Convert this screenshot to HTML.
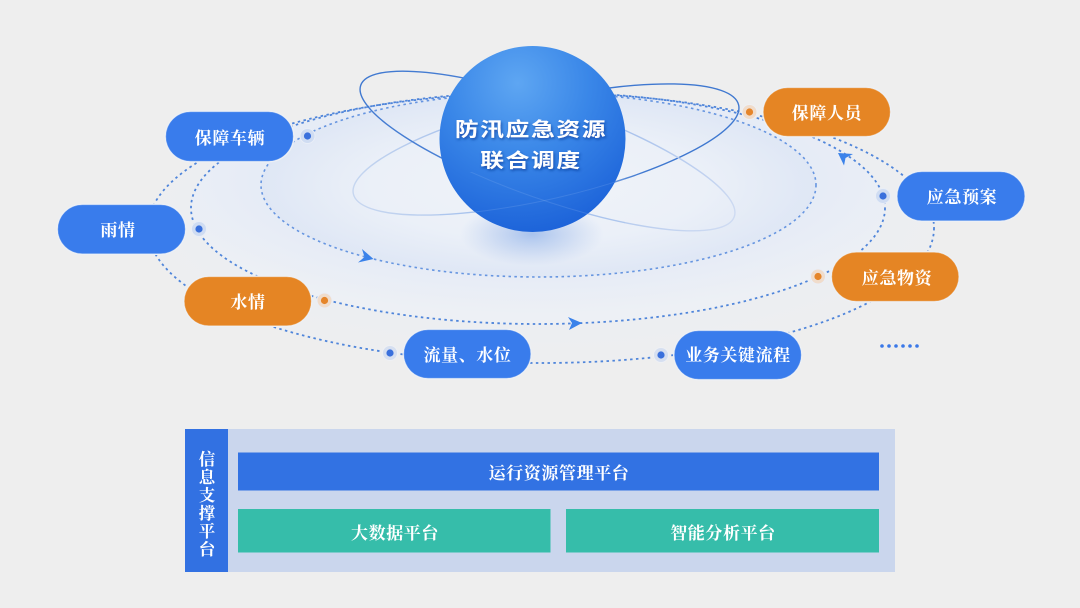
<!DOCTYPE html>
<html lang="zh">
<head>
<meta charset="utf-8">
<style>
html,body{margin:0;padding:0;background:#eeeeee;}
svg{display:block;}
.p{font-family:"Liberation Serif","Noto Serif CJK SC",serif;font-weight:700;font-size:17px;letter-spacing:.6px;fill:#fff;text-anchor:middle;}
.v{font-size:16.5px;letter-spacing:0;}
.t{font-family:"Liberation Sans","Noto Sans CJK SC",sans-serif;font-weight:700;font-size:22px;letter-spacing:1.5px;fill:#fff;text-anchor:middle;filter:url(#ts);}
.d{fill:none;stroke:#4f85da;stroke-width:1.8;stroke-dasharray:2.5 3.4;}
</style>
</head>
<body>
<svg width="1080" height="608" viewBox="0 0 1080 608" xmlns="http://www.w3.org/2000/svg">
<defs>
<radialGradient id="fo" cx="50%" cy="45%" r="50%">
<stop offset="0" stop-color="#e8edf7"/>
<stop offset=".8" stop-color="#e9edf5"/>
<stop offset="1" stop-color="#eceef3"/>
</radialGradient>
<radialGradient id="fm" cx="50%" cy="38%" r="58%">
<stop offset="0" stop-color="#ecf0f8"/>
<stop offset=".65" stop-color="#e5ebf6"/>
<stop offset="1" stop-color="#edf0f5"/>
</radialGradient>
<radialGradient id="fi" cx="50%" cy="50%" r="50%">
<stop offset="0" stop-color="#f0f3f9"/>
<stop offset=".6" stop-color="#ebf0f8"/>
<stop offset="1" stop-color="#dfe7f5"/>
</radialGradient>
<radialGradient id="sph" cx="42%" cy="20%" r="85%">
<stop offset="0" stop-color="#5ea6f2"/>
<stop offset=".45" stop-color="#3a87e8"/>
<stop offset="1" stop-color="#1a60d8"/>
</radialGradient>
<radialGradient id="sh" cx="50%" cy="50%" r="50%">
<stop offset="0" stop-color="#7ba4e6" stop-opacity=".6"/>
<stop offset=".55" stop-color="#8fb0e8" stop-opacity=".3"/>
<stop offset="1" stop-color="#9db9ea" stop-opacity="0"/>
</radialGradient>
<linearGradient id="ra" gradientUnits="userSpaceOnUse" x1="360" y1="190" x2="730" y2="110">
<stop offset="0" stop-color="#c6d6f0"/>
<stop offset=".45" stop-color="#9dbbea"/>
<stop offset=".72" stop-color="#3f78d0"/>
<stop offset="1" stop-color="#3f78d0"/>
</linearGradient>
<linearGradient id="rb" gradientUnits="userSpaceOnUse" x1="360" y1="90" x2="730" y2="220">
<stop offset="0" stop-color="#3f78d0"/>
<stop offset=".3" stop-color="#4a80d4"/>
<stop offset=".6" stop-color="#a6c0ec"/>
<stop offset="1" stop-color="#d0dcf2"/>
</linearGradient>
<clipPath id="sc"><path d="M440 172 H625 V232 H440 Z"/></clipPath>
<filter id="ts" x="-10%" y="-30%" width="120%" height="170%">
<feDropShadow dx="1" dy="2" stdDeviation="1.5" flood-color="#0b3a96" flood-opacity=".75"/>
</filter>
</defs>

<rect width="1080" height="608" fill="#eeeeee"/>

<!-- orbit ellipses -->
<ellipse cx="541" cy="228" rx="393" ry="135" fill="url(#fo)" opacity=".5"/>
<ellipse cx="538" cy="208" rx="347" ry="116" fill="url(#fm)"/>
<ellipse cx="538.500" cy="185" rx="277.500" ry="92" fill="url(#fi)"/>
<ellipse cx="541" cy="228" rx="393" ry="135" class="d"/>
<ellipse cx="538" cy="208" rx="347" ry="116" class="d"/>
<ellipse cx="538.500" cy="185" rx="277.500" ry="92" class="d" style="stroke:#6695e0;stroke-width:1.6"/>

<!-- tilted rings -->
<ellipse cx="546" cy="149.500" rx="197.700" ry="49.500" transform="rotate(-13 546 149.5)" fill="none" stroke="url(#ra)" stroke-width="1.4"/>
<ellipse cx="547.500" cy="151" rx="198" ry="48" transform="rotate(19.4 547.5 151)" fill="none" stroke="url(#rb)" stroke-width="1.4"/>

<!-- sphere -->
<ellipse cx="532" cy="234" rx="72" ry="32" fill="url(#sh)"/>
<circle cx="532.500" cy="139" r="93" fill="url(#sph)"/>
<g clip-path="url(#sc)" fill="none" stroke="#8db8f2" stroke-opacity=".22" stroke-width="1">
<ellipse cx="546" cy="149.500" rx="197.700" ry="49.500" transform="rotate(-13 546 149.5)"/>
<ellipse cx="547.500" cy="151" rx="198" ry="48" transform="rotate(19.4 547.5 151)"/>
</g>
<text class="t" transform="translate(531,136) scale(1.08,.88)">防汛应急资源</text>
<text class="t" transform="translate(531,167) scale(1.08,.88)">联合调度</text>

<!-- arrows -->
<path d="M362 249 L373.500 259 L358 262.500 L364.500 257 Z" fill="#3a82ea"/>
<path d="M568 317 L582 323 L569 330 L572 323 Z" fill="#3a82ea"/>
<path d="M838 153 L853 154 L845.500 158 L844 165.500 Z" fill="#3a82ea"/>

<!-- dots -->
<g fill="#3a70dc">
<circle cx="307.500" cy="136" r="7.500" fill="#cfdcf2" stroke="#e9eef7"/><circle cx="307.500" cy="136" r="3.600"/>
<circle cx="199" cy="229" r="7.500" fill="#cfdcf2" stroke="#e9eef7"/><circle cx="199" cy="229" r="3.600"/>
<circle cx="390" cy="353" r="7.500" fill="#d6dff0" stroke="#eef0f4"/><circle cx="390" cy="353" r="3.600"/>
<circle cx="661" cy="355" r="7.500" fill="#d6dff0" stroke="#eef0f4"/><circle cx="661" cy="355" r="3.600"/>
<circle cx="883" cy="196" r="7.500" fill="#cfdcf2" stroke="#e9eef7"/><circle cx="883" cy="196" r="3.600"/>
</g>
<g fill="#e5852a">
<circle cx="324.500" cy="300.500" r="7.500" fill="#f0dccb" stroke="#eaeef6"/><circle cx="324.500" cy="300.500" r="3.600"/>
<circle cx="818" cy="276.500" r="7.500" fill="#f0dccb" stroke="#eaeef6"/><circle cx="818" cy="276.500" r="3.600"/>
<circle cx="749.500" cy="112" r="7.500" fill="#f0dccb" stroke="#eef0f4"/><circle cx="749.500" cy="112" r="3.600"/>
</g>

<!-- pill halos -->
<g fill="none" stroke="#edf0f5" stroke-width="3">
<rect x="166" y="112" width="127" height="49" rx="24.500"/>
<rect x="58" y="205" width="127" height="48.500" rx="24.200"/>
<rect x="404" y="330" width="126.500" height="48" rx="24"/>
<rect x="674.500" y="331" width="126.500" height="48" rx="24"/>
<rect x="897.500" y="172" width="127" height="48.500" rx="24.200"/>
<rect x="184.500" y="277" width="126.500" height="48.500" rx="24.200"/>
<rect x="832" y="252.500" width="126.500" height="48.500" rx="24.200"/>
<rect x="763.500" y="88" width="126.500" height="48" rx="24"/>
</g>
<!-- pills -->
<g fill="#397cec" stroke="#6b9df0" stroke-width=".5">
<rect x="166" y="112" width="127" height="49" rx="24.500"/>
<rect x="58" y="205" width="127" height="48.500" rx="24.200"/>
<rect x="404" y="330" width="126.500" height="48" rx="24"/>
<rect x="674.500" y="331" width="126.500" height="48" rx="24"/>
<rect x="897.500" y="172" width="127" height="48.500" rx="24.200"/>
</g>
<g fill="#e58524" stroke="#eda860" stroke-width=".5">
<rect x="184.500" y="277" width="126.500" height="48.500" rx="24.200"/>
<rect x="832" y="252.500" width="126.500" height="48.500" rx="24.200"/>
<rect x="763.500" y="88" width="126.500" height="48" rx="24"/>
</g>
<text class="p" x="230" y="144">保障车辆</text>
<text class="p" x="118" y="236">雨情</text>
<text class="p" x="248" y="308">水情</text>
<text class="p" x="467.500" y="361">流量、水位</text>
<text class="p" x="738" y="361">业务关键流程</text>
<text class="p" x="897" y="284">应急物资</text>
<text class="p" x="962" y="203">应急预案</text>
<text class="p" x="827" y="119">保障人员</text>

<!-- ellipsis -->
<g fill="#3a78e8">
<circle cx="882" cy="346" r="1.800"/><circle cx="889" cy="346" r="1.800"/><circle cx="896" cy="346" r="1.800"/><circle cx="903" cy="346" r="1.800"/><circle cx="910" cy="346" r="1.800"/><circle cx="917" cy="346" r="1.800"/>
</g>

<!-- platform -->
<rect x="185" y="429" width="710" height="143" fill="#cad6ed"/>
<rect x="185" y="429" width="43" height="143" fill="#3271e2"/>
<rect x="238" y="452.500" width="641" height="38" fill="#3272e3"/>
<rect x="238" y="509" width="312.500" height="43.500" fill="#36bdaa"/>
<rect x="566" y="509" width="313" height="43.500" fill="#36bdaa"/>
<text class="p v" x="207" y="465">信</text>
<text class="p v" x="207" y="483">息</text>
<text class="p v" x="207" y="501">支</text>
<text class="p v" x="207" y="519">撑</text>
<text class="p v" x="207" y="537">平</text>
<text class="p v" x="207" y="555">台</text>
<text class="p" x="559" y="479">运行资源管理平台</text>
<text class="p" x="395" y="539">大数据平台</text>
<text class="p" x="723" y="539">智能分析平台</text>
</svg>
</body>
</html>
